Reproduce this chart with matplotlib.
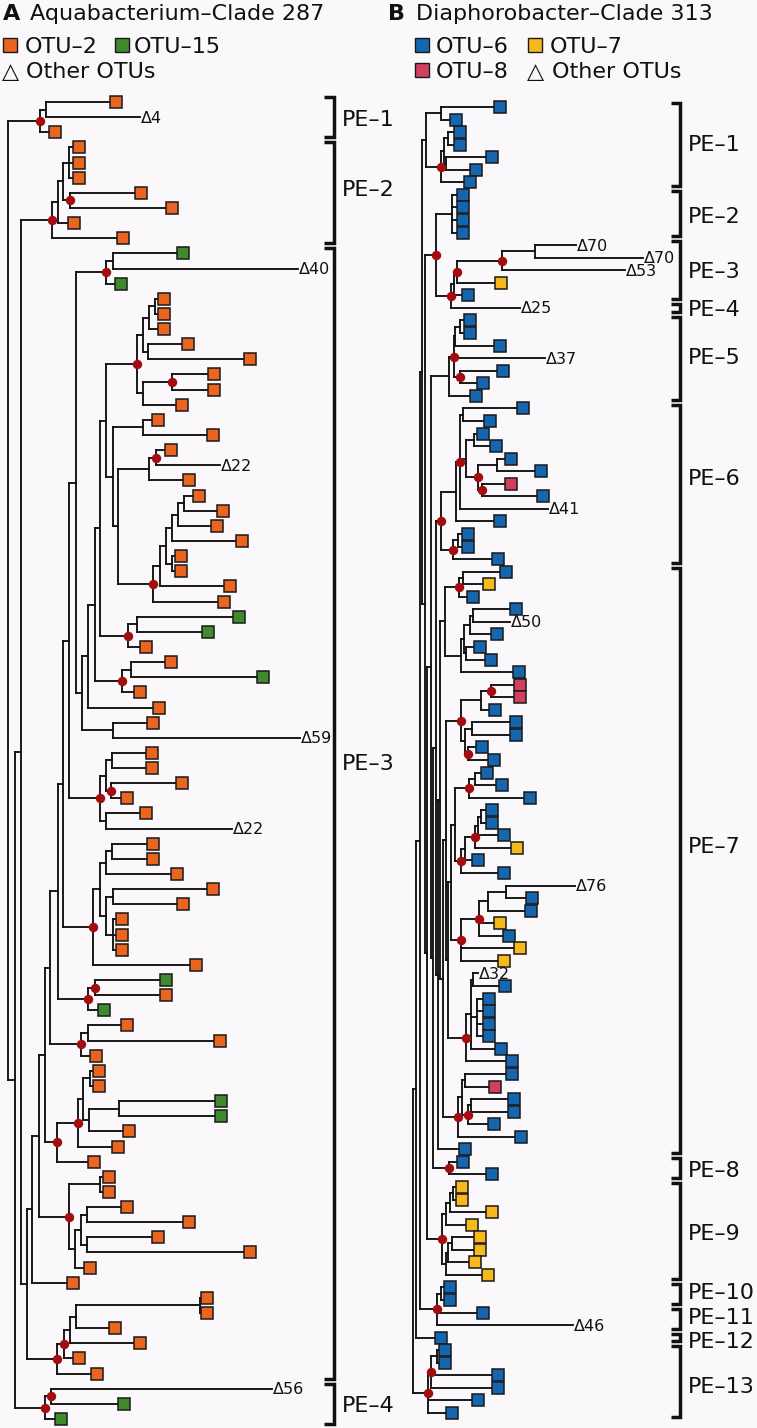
import re
import matplotlib
matplotlib.use("Agg")
import matplotlib.pyplot as plt
from matplotlib.collections import LineCollection
from matplotlib.transforms import ScaledTranslation

# ---------------- DATA ----------------
# Trees written as nested groups: leaf = kind[label]:tip-depth, node = (...)depth, '*' = supported node (red dot)
# kinds: o OTU-2, g OTU-15, b OTU-6, y OTU-7, p OTU-8, t other OTU (label = number)
L_PE1 = "((o:110,t4:140)46,o:49)40*"
L_PE2 = "((((o:73,o:73,o:73)69,(o:135,o:166)70*)63,o:68)58,o:117)52*"
L_D40 = "((g:177,t40:298)113,g:115)106*"
L_A14 = "((((o:158,o:158)155,o:158)149,(o:182,o:244)148)143,((o:208,o:208)172*,o:176)143)137*"
L_A22 = "(o:152,o:207)143"
L_A24 = "((o:165,t22:220)156*,o:183)149"
L_A27 = "((((((o:193,o:217)184,o:211)178,o:236)172,(o:175,o:175)172)166,o:224)160,o:218)153*"
L_A35 = "((g:233,g:202)137,o:140)128*"
L_A38 = "((o:165,g:257)131,o:134)122*"
L_A41 = "o:153"
L_A42 = "(o:147,t59:300)113"
L_A44 = "(((o:146,o:146)112,(o:176,o:121)111*)106,(o:140,t22:232)106)100*"
L_A50 = "((((o:147,o:147)112,o:171)106,((o:207,o:177)113,(o:116,o:116,o:116)113)106)100,o:190)93*"
L_A59 = "((g:160,o:160)95*,g:98)88*"
L_A62 = "((o:121,o:214)88,o:90)81*"
L_A65 = "((((o:93,o:93)90,((g:215,g:215)119,o:123)89)83,o:112)78*,o:88)57*"
L_A72 = "((o:103,o:103)100,(((o:121,o:183)87,(o:152,o:244)87)81,o:84)75)69*"
L_A79 = "o:67"
L_A80 = "(((((o:201,o:201)200,o:109)76,o:134)70,o:73)64*,o:91)57*"
L_PE4 = "((t56:272,g:118)51*,g:55)45*"

R_C1 = "((b:494,b:450)441,(((b:454,b:454)448,(b:486,b:470)446)444,b:464)441*)426"
R_C2 = "((b:457,b:457,b:457,b:457)452,(((((t70:576,t70:643)535,t53:625)502*,y:495)457*,b:462)454,t25:520)451*)436*"
R_C3 = "((((b:464,b:464)460,b:494)455,t37:545,(b:497,b:477)460*)454*,b:470)449"
R_C4a = "(b:517,b:484)463"
R_C4b = "(b:477,b:490)474"
R_C4c = "((b:505,b:535)497,(p:505,b:537)482*)478*"
R_C4d = "((b:462,b:462)458,b:492)453*"
R_C5 = "((b:500,y:483)463,b:467)459*"
R_C6 = "((((b:510,t50:510)473,b:491)470,(b:474,b:485)466)464,b:513)461"
R_C7 = "(((p:514,p:514)491*,b:489)481,((b:510,b:510)472,(b:476,b:488)468*)465)461*"
R_C8 = "((b:481,b:496)475,b:524)469*"
R_C9 = "(((((b:486,b:486)481,b:498)478,y:511)475*,b:472)465,b:498)461*"
R_C10 = "((((t76:575,b:526)506,b:525)488,y:494,b:503)479*,y:514,y:498)461*"
R_C11 = "(((t32:478,b:499)473,(b:483,b:483,b:483,b:483)477,b:495)471,b:506)466*"
R_C12 = "(((b:506,p:489)465,((b:508,b:508)471,b:488)468*)462,b:515)458*"
R_L84 = "b:459"
R_C13 = "(b:457,b:486)449*"
R_C14 = "((((y:456,y:456)453,y:486)450,y:466)446,(((y:474,y:474)452,y:469)448,y:482)446)442*"
R_C15 = "((b:444,b:444)441,b:477,t46:573)437*"
R_C16 = "b:435"
R_C17 = "(((b:439,b:439)437,b:492,b:492)431*,b:472,b:446)428*"

LEFT_PE = ["PE–1", "PE–2", "PE–3", "PE–4"]
LEFT_PE_LEAVES = [(0, 2), (3, 9), (10, 84), (85, 87)]
RIGHT_PE = ["PE–1", "PE–2", "PE–3", "PE–4", "PE–5", "PE–6", "PE–7",
            "PE–8", "PE–9", "PE–10", "PE–11", "PE–12", "PE–13"]
RIGHT_PE_LEAVES = [(0, 6), (7, 10), (11, 15), (16, 16), (17, 23), (24, 36), (37, 83),
                   (84, 85), (86, 93), (94, 95), (96, 97), (98, 98), (99, 104)]

TITLE_A = "Aquabacterium–Clade 287"
TITLE_B = "Diaphorobacter–Clade 313"
COLORS = {"o": "#EA651F", "g": "#3F8A2C", "b": "#1566AE", "y": "#F7B81C", "p": "#D2405F"}
LEGEND_A = [("o", "OTU–2"), ("g", "OTU–15")]
LEGEND_B1 = [("b", "OTU–6"), ("y", "OTU–7")]
LEGEND_B2 = [("p", "OTU–8")]

# ---------------- assemble trees ----------------
def grp(parts, depth):
    return "(" + ",".join(parts) + ")" + depth

n118 = grp([L_A24, L_A27], "118")
n113 = grp([L_A22, n118], "113")
n106 = grp([L_A14, n113], "106")
n100 = grp([n106, L_A35], "100")
n95 = grp([n100, L_A38], "95")
n88 = grp([n95, L_A41], "88")
n82 = grp([n88, L_A42], "82")
n76 = grp([L_D40, n82], "76")
n69 = grp([n76, L_A44], "69")
n63 = grp([n69, L_A50], "63")
n58 = grp([n63, L_A59], "58")
n50 = grp([n58, L_A62], "50")
n45 = grp([n50, L_A65], "45")
n39 = grp([n45, L_A72], "39")
n32 = grp([n39, L_A79], "32")
n27 = grp([n32, L_A80], "27")
n21 = grp([L_PE2, n27], "21")
n15 = grp([n21, L_PE4], "15")
LEFT_TREE = grp([L_PE1, n15], "8")

R_C4 = grp([grp([grp([R_C4a, grp([R_C4b, R_C4c], "466"), "t41:548"], "460*"), "b:494"], "456"), R_C4d], "441*")
R_C56 = grp([R_C5, R_C6], "445")
R_C89 = grp([R_C8, R_C9], "455")
m = grp([R_C89, R_C10], "451")
m = grp([m, R_C11], "448")
m = grp([R_C7, m], "446")
m = grp([m, R_C12], "443")
m = grp([R_C56, m], "440")
m = grp([m, R_L84], "438")
m = grp([R_C4, m], "436")
m = grp([m, R_C13], "433")
m = grp([R_C3, m], "431")
m = grp([m, R_C14], "427")
m = grp([R_C2, m], "425")
m = grp([R_C1, m], "422")
m = grp([m, R_C15], "420")
m = grp([m, R_C16], "416")
RIGHT_TREE = grp([m, R_C17], "413")


def parse(s):
    s = s.replace(" ", "")
    pos = 0

    def node():
        nonlocal pos
        if s[pos] == "(":
            pos += 1
            kids = [node()]
            while s[pos] == ",":
                pos += 1
                kids.append(node())
            pos += 1
            mm = re.match(r"([\d.]+)(\*?)", s[pos:])
            pos += mm.end()
            return {"kids": kids, "x": float(mm.group(1)), "dot": mm.group(2) == "*"}
        mm = re.match(r"([a-z])(\d*):([\d.]+)", s[pos:])
        pos += mm.end()
        return {"kind": mm.group(1), "label": mm.group(2), "x": float(mm.group(3))}

    return node()


def layout(tree):
    leaves, nodes = [], []

    def walk(n):
        if "kids" in n:
            for k in n["kids"]:
                walk(k)
            n["y"] = (n["kids"][0]["y"] + n["kids"][-1]["y"]) / 2
            nodes.append(n)
        else:
            n["y"] = len(leaves)
            leaves.append(n)

    walk(tree)
    return leaves, nodes


# ---------------- figure ----------------
W, H = 757, 1428
BG = "#FAF8FA"
fig = plt.figure(figsize=(W / 100, H / 100), dpi=100)
fig.patch.set_facecolor(BG)
FONT = "DejaVu Sans"


def tree_axes(first_px, last_px, nleaves):
    ax = fig.add_axes([0, 0, 1, 1])
    ax.set_facecolor("none")
    step = (last_px - first_px) / (nleaves - 1)
    ax.set_xlim(0, W)
    ax.set_ylim((H - first_px) / step, -first_px / step)
    ax.axis("off")
    return ax, step


def draw_tree(ax, tree, step):
    leaves, nodes = layout(tree)
    segs = []
    for n in nodes:
        segs.append([(n["x"], n["kids"][0]["y"]), (n["x"], n["kids"][-1]["y"])])
        for k in n["kids"]:
            segs.append([(n["x"], k["y"]), (k["x"], k["y"])])
    lc = LineCollection(segs, colors="#111111", linewidths=1.35, capstyle="projecting", zorder=2)
    ax.add_collection(lc)
    sq_off = ax.transData + ScaledTranslation(6.0 / 100, 0, fig.dpi_scale_trans)
    for kind, col in COLORS.items():
        pts = [l for l in leaves if l["kind"] == kind]
        if pts:
            ax.plot([p["x"] for p in pts], [p["y"] for p in pts], "s", transform=sq_off,
                    ms=8.4, mfc=col, mec="#1a1a1a", mew=1.1, zorder=4, clip_on=False)
    txt_off = ax.transData + ScaledTranslation(1.0 / 100, -5.5 / 100, fig.dpi_scale_trans)
    for l in leaves:
        if l["kind"] == "t":
            ax.text(l["x"], l["y"], "Δ" + l["label"], transform=txt_off, fontsize=11.5,
                    ha="left", va="baseline", family=FONT, color="#111111", zorder=5)
    dots = [n for n in nodes if n["dot"]]
    ax.plot([n["x"] for n in dots], [n["y"] for n in dots], "o", ms=6.8,
            color="#A30C10", mec="none", zorder=5)


def brackets(ax, names, spans, xbar, tick, gap, step, label_pos):
    lab_off = ax.transData + ScaledTranslation(0, -8.0 / 100, fig.dpi_scale_trans)
    for name, (a, b), ly in zip(names, spans, label_pos):
        y0, y1 = a - 0.5 + gap, b + 0.5 - gap
        ax.plot([xbar - tick, xbar, xbar, xbar - tick], [y0, y0, y1, y1], color="#111111",
                lw=2.5, solid_joinstyle="miter", solid_capstyle="butt", zorder=3)
        ax.text(xbar + 8, ly, name, transform=lab_off, fontsize=16, family=FONT,
                ha="left", va="baseline", color="#111111")


axL, stepL = tree_axes(102, 1419, 88)
draw_tree(axL, parse(LEFT_TREE), stepL)
brackets(axL, LEFT_PE, LEFT_PE_LEAVES, 334, 10, 0.17, stepL, [1.05, 5.68, 43.6, 86.0])

axR, stepR = tree_axes(107, 1413, 105)
draw_tree(axR, parse(RIGHT_TREE), stepR)
brackets(axR, RIGHT_PE, RIGHT_PE_LEAVES, 680, 9, 0.2, stepR,
         [2.87, 8.6, 13.0, 16.0, 19.8, 29.5, 58.8, 84.6, 89.6, 94.3, 96.3, 98.2, 101.8])

# ---------------- titles and legends ----------------
ov = fig.add_axes([0, 0, 1, 1])
ov.set_facecolor("none")
ov.set_xlim(0, W)
ov.set_ylim(H, 0)
ov.axis("off")

def t(x, y, s, **kw):
    ov.text(x, y, s, fontsize=16, family=FONT, ha="left", va="baseline", color="#111111", **kw)

t(3, 20, "A", weight="bold")
t(30, 20, TITLE_A)
t(388, 20, "B", weight="bold")
t(416, 20, TITLE_B)

def legend_row(items, y, xs_text):
    for (kind, lab), (xs, xt) in zip(items, xs_text):
        ov.plot([xs], [y], "s", ms=10.2, mfc=COLORS[kind], mec="#1a1a1a", mew=1.0)
        t(xt, y + 8, lab)

legend_row(LEGEND_A, 45, [(10, 25), (122, 134)])
t(2, 78, "△")
t(26, 78, "Other OTUs")
legend_row(LEGEND_B1, 45, [(422, 436), (535, 550)])
legend_row(LEGEND_B2, 70, [(422, 436)])
t(527, 78, "△")
t(552, 78, "Other OTUs")

fig.savefig("out.png", dpi=100, facecolor=BG)
